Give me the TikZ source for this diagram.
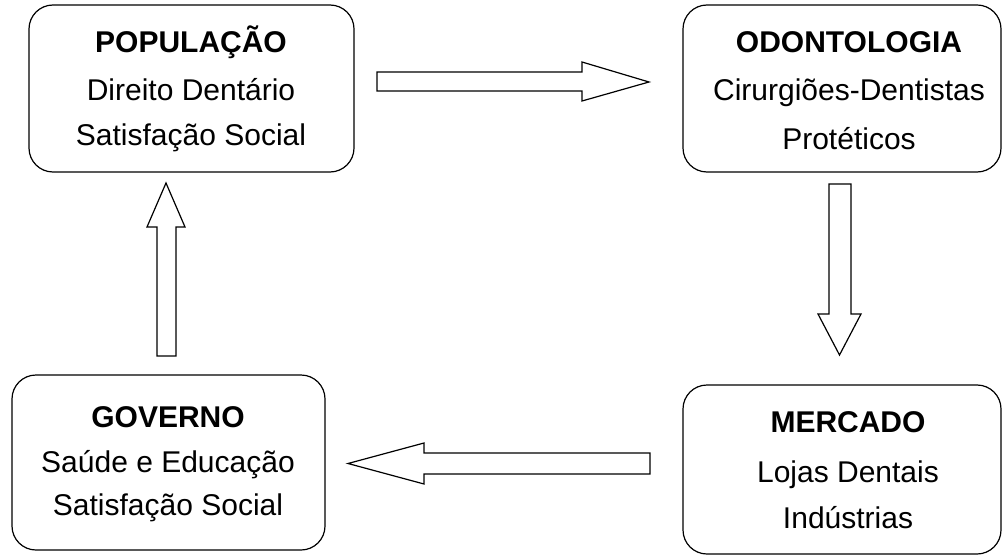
\documentclass[tikz,border=0pt]{standalone}
\usepackage{fontspec}
\setmainfont{Liberation Sans}
\begin{document}
\begin{tikzpicture}[x=1pt,y=-1pt,
  box/.style={draw, line width=1.2pt, rounded corners=24pt, inner sep=0pt},
  ttl/.style={anchor=base, font=\fontsize{30}{36}\selectfont\bfseries, inner sep=0pt},
  txt/.style={anchor=base, font=\fontsize{30}{36}\selectfont, inner sep=0pt},
  blockarrow/.style={draw, line width=1.2pt, line join=miter, fill=white}]
\useasboundingbox (0,0) rectangle (1003,556);
% boxes
\node[box, minimum width=325pt, minimum height=167pt] (pop) at (191.5,88.5) {};
\node[box, minimum width=318pt, minimum height=167pt] (odo) at (842,88.5) {};
\node[box, minimum width=313pt, minimum height=175pt] (gov) at (168.5,462.5) {};
\node[box, minimum width=318pt, minimum height=169pt] (mer) at (842,469.5) {};
% texts
\node[ttl] (pop1) at (191,53) {POPULAÇÃO};
\node[txt] (pop2) at (191,101) {Direito Dentário};
\node[txt] (pop3) at (191,146) {Satisfação Social};
\node[ttl] (odo1) at (849,53) {ODONTOLOGIA};
\node[txt] (odo2) at (849,101) {Cirurgiões-Dentistas};
\node[txt] (odo3) at (849,150) {Protéticos};
\node[ttl] (gov1) at (168,427) {GOVERNO};
\node[txt] (gov2) at (168,472) {Saúde e Educação};
\node[txt] (gov3) at (168,515) {Satisfação Social};
\node[ttl] (mer1) at (848,432) {MERCADO};
\node[txt] (mer2) at (848,482) {Lojas Dentais};
\node[txt] (mer3) at (848,528) {Indústrias};
% block arrows
\draw[blockarrow] (377,72) -- (582,72) -- (582,62) -- (649,82) -- (582,101) -- (582,91) -- (377,91) -- cycle;
\draw[blockarrow] (829,184) -- (851,184) -- (851,314) -- (861,314) -- (839.5,355) -- (818,314) -- (829,314) -- cycle;
\draw[blockarrow] (650,453) -- (424,453) -- (424,443) -- (348,463.5) -- (424,484) -- (424,474) -- (650,474) -- cycle;
\draw[blockarrow] (157,356) -- (157,227) -- (147,227) -- (166,183) -- (185,227) -- (176,227) -- (176,356) -- cycle;
\end{tikzpicture}
\end{document}
